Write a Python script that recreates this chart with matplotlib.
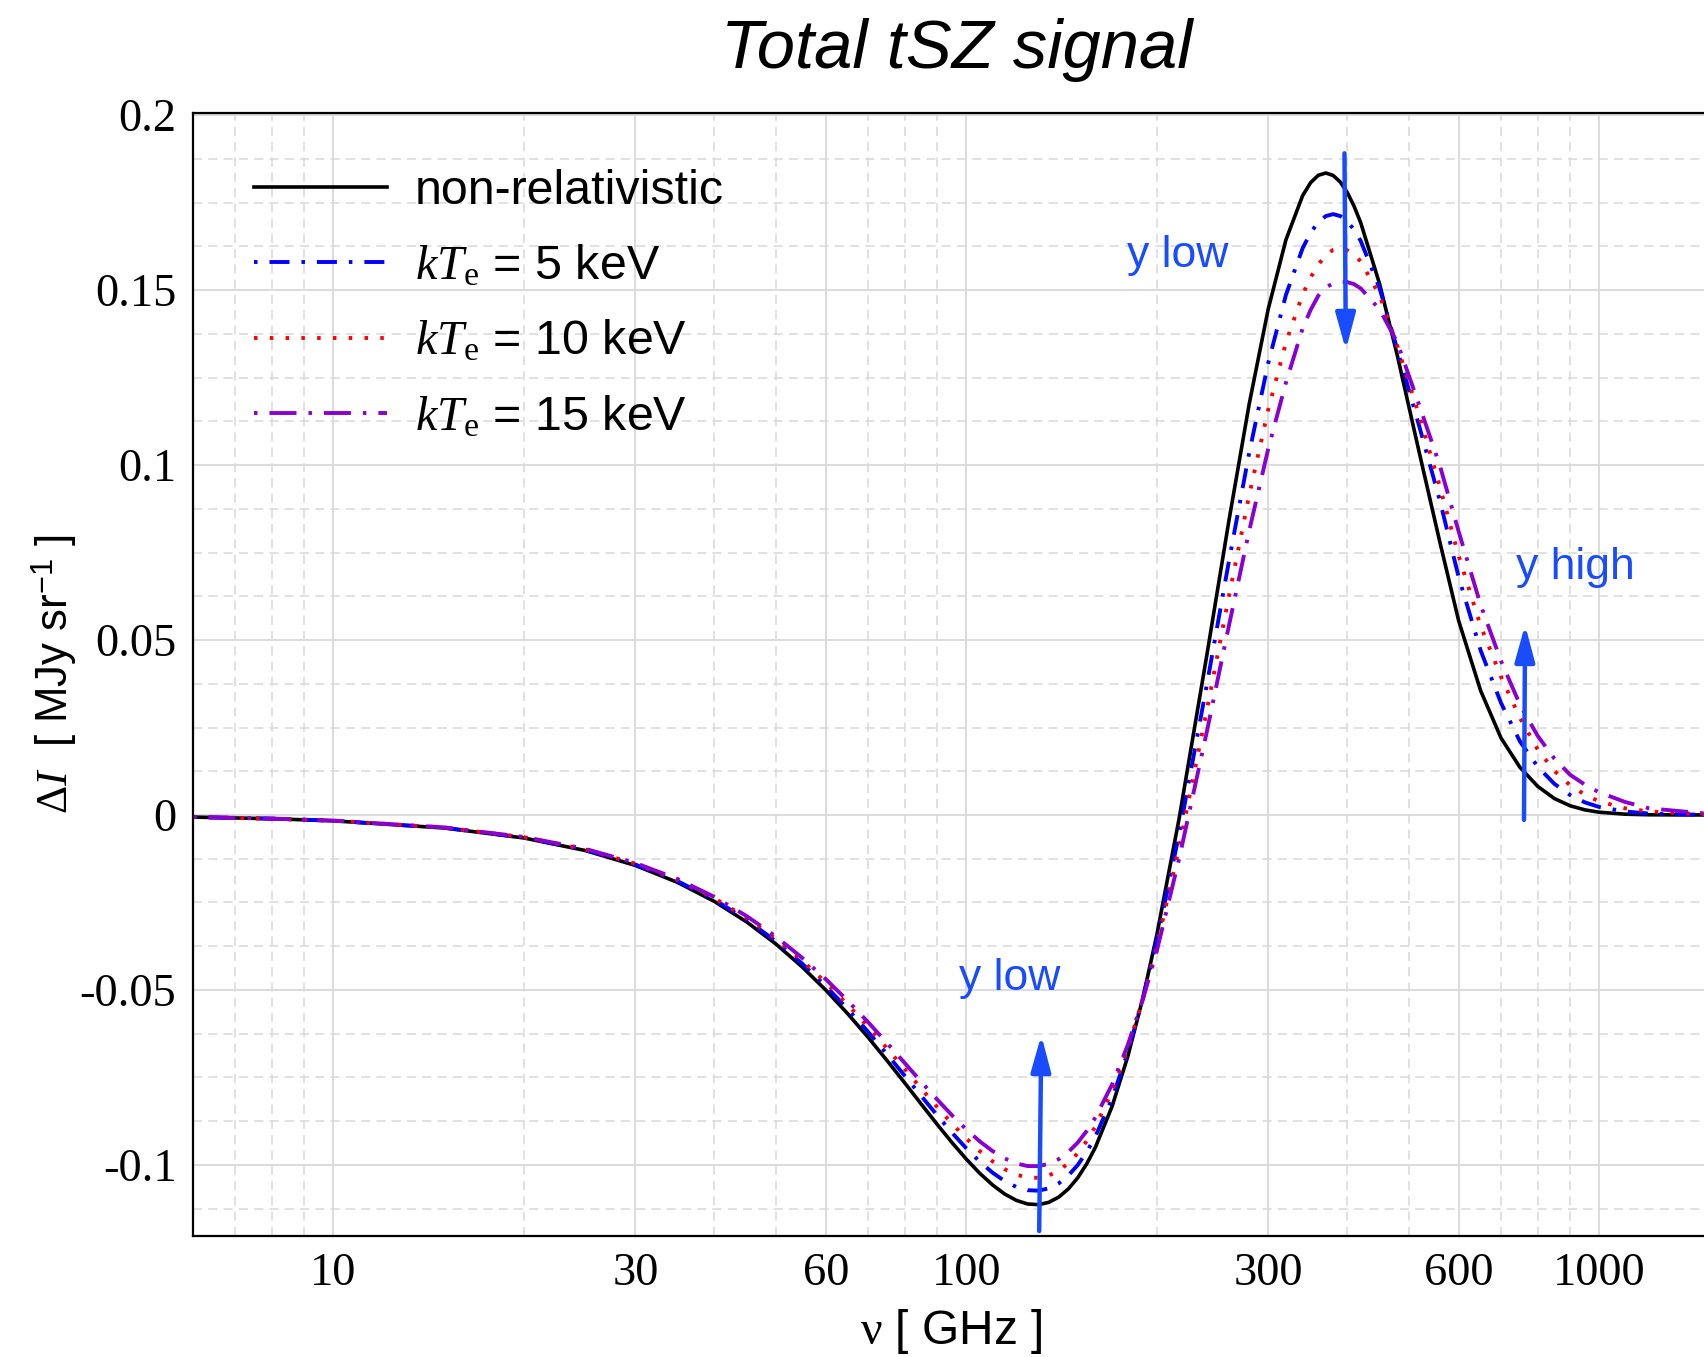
import matplotlib
matplotlib.use('Agg')
import matplotlib.pyplot as plt

plt.rcParams['font.family'] = 'Liberation Sans'
plt.rcParams['mathtext.fontset'] = 'custom'
plt.rcParams['mathtext.rm'] = 'Liberation Serif'
plt.rcParams['mathtext.it'] = 'Liberation Serif:italic'
plt.rcParams['mathtext.sf'] = 'Liberation Sans'

# frequency grid [GHz] and intensity change [MJy/sr]
freq = [6, 8, 10, 15, 20, 25, 30,
        35, 40, 45, 50, 55, 60, 65, 70, 75, 80, 85, 90, 95, 100,
        105, 110, 115, 120, 125, 130, 135, 140, 145, 150, 155, 160,
        170, 180, 190, 200, 217,
        240, 260, 280, 300, 320, 340,
        350, 360, 370, 380, 390, 400, 410, 420,
        450, 480, 520, 560, 600, 650, 700, 750, 800,
        850, 900, 950, 1000, 1100, 1200, 1500]

non_rel = [-0.00060, -0.00107, -0.00167, -0.00373, -0.00657, -0.01015, -0.01442,
           -0.01929, -0.02471, -0.03059, -0.03683, -0.04336, -0.05006, -0.05684, -0.06359,
           -0.07023, -0.07664, -0.08275, -0.08845, -0.09367, -0.09832,
           -0.10236, -0.10570, -0.10831, -0.11014, -0.11116, -0.11135, -0.11070, -0.10920,
           -0.10685, -0.10369, -0.09971, -0.09496,
           -0.08328, -0.06900, -0.05254, -0.03437, -0.00095,
           0.04570, 0.08400, 0.11748, 0.14453, 0.16436, 0.17696,
           0.18068, 0.18281, 0.18346, 0.18277, 0.18087, 0.17791, 0.17401, 0.16932,
           0.15175, 0.13129, 0.10347, 0.07817, 0.05550, 0.03550, 0.02200, 0.01360, 0.00818,
           0.00470, 0.00264, 0.00146, 0.00080, 0.00023, 0.00006, 0.00000]

kte5 = [-0.00059, -0.00105, -0.00164, -0.00367, -0.00646, -0.00998, -0.01416,
        -0.01894, -0.02424, -0.02998, -0.03607, -0.04242, -0.04893, -0.05549, -0.06202,
        -0.06841, -0.07458, -0.08043, -0.08587, -0.09084, -0.09524,
        -0.09905, -0.10219, -0.10462, -0.10631, -0.10722, -0.10736, -0.10670, -0.10526,
        -0.10302, -0.10004, -0.09630, -0.09186,
        -0.08101, -0.06781, -0.05267, -0.03603, -0.00539,
        0.03726, 0.07243, 0.10350, 0.12912, 0.14862, 0.16193,
        0.16637, 0.16942, 0.17116, 0.17171, 0.17117, 0.16965, 0.16725, 0.16410,
        0.15050, 0.13300, 0.11100, 0.09000, 0.06800, 0.04700, 0.03200, 0.02100, 0.01380,
        0.00890, 0.00570, 0.00360, 0.00230, 0.00100, 0.00040, 0.00000]

kte10 = [-0.00058, -0.00104, -0.00162, -0.00361, -0.00636, -0.00981, -0.01393,
         -0.01861, -0.02380, -0.02942, -0.03536, -0.04155, -0.04788, -0.05425, -0.06057,
         -0.06675, -0.07268, -0.07830, -0.08350, -0.08824, -0.09242,
         -0.09602, -0.09896, -0.10123, -0.10278, -0.10361, -0.10369, -0.10303, -0.10163,
         -0.09950, -0.09668, -0.09317, -0.08902,
         -0.07892, -0.06672, -0.05280, -0.03755, -0.00923,
         0.03000, 0.06243, 0.09142, 0.11581, 0.13501, 0.14870,
         0.15360, 0.15730, 0.16000, 0.16150, 0.16180, 0.16140, 0.16030, 0.15820,
         0.14850, 0.13400, 0.11400, 0.09400, 0.07400, 0.05400, 0.03950, 0.02770, 0.01870,
         0.01260, 0.00850, 0.00580, 0.00390, 0.00190, 0.00100, 0.00010]

kte15 = [-0.00057, -0.00102, -0.00160, -0.00356, -0.00627, -0.00967, -0.01371,
         -0.01831, -0.02341, -0.02891, -0.03472, -0.04077, -0.04693, -0.05313, -0.05925,
         -0.06523, -0.07095, -0.07636, -0.08134, -0.08587, -0.08984,
         -0.09325, -0.09602, -0.09814, -0.09958, -0.10032, -0.10035, -0.09969, -0.09834,
         -0.09630, -0.09362, -0.09032, -0.08642,
         -0.07702, -0.06573, -0.05291, -0.03893, -0.01246,
         0.02384, 0.05401, 0.08124, 0.10459, 0.12355, 0.13900,
         0.14430, 0.14840, 0.15080, 0.15190, 0.15240, 0.15230, 0.15170, 0.15050,
         0.14450, 0.13500, 0.11700, 0.10000, 0.08100, 0.06000, 0.04400, 0.03150, 0.02260,
         0.01610, 0.01150, 0.00865, 0.00650, 0.00370, 0.00190, 0.00030]

labels = ['non-relativistic', r'$kT_{\mathrm{e}}$ = 5 keV',
          r'$kT_{\mathrm{e}}$ = 10 keV', r'$kT_{\mathrm{e}}$ = 15 keV']

x_ticks = [10, 30, 60, 100, 300, 600, 1000]
x_ticklabels = ['10', '30', '60', '100', '300', '600', '1000']
x_minor = [7, 8, 9, 20, 40, 50, 70, 80, 90, 200, 400, 500, 700, 800, 900]
y_ticks = [-0.1, -0.05, 0, 0.05, 0.1, 0.15, 0.2]
y_ticklabels = ['-0.1', '-0.05', '0', '0.05', '0.1', '0.15', '0.2']
y_minor = [-0.1125, -0.0875, -0.075, -0.0625, -0.0375, -0.025, -0.0125,
           0.0125, 0.025, 0.0375, 0.0625, 0.075, 0.0875,
           0.1125, 0.125, 0.1375, 0.1625, 0.175, 0.1875]

ARROW_BLUE = '#1a4cff'

fig = plt.figure(figsize=(17.04, 13.57), dpi=100)
ax = fig.add_axes([0.1133, 0.0892, 0.8867, 0.8275])
ax.set_xscale('log')

ax.plot(freq, non_rel, color='black', lw=2.6, label=labels[0])
ax.plot(freq, kte5, color='#0000ff', lw=2.8, ls=(0, (0.9, 3.08, 5.14, 3.08)), label=labels[1])
ax.plot(freq, kte10, color='#ff0000', lw=2.8, ls=(0, (0.9, 3.16)), label=labels[2])
ax.plot(freq, kte15, color='#8a00d0', lw=2.8, ls=(0, (0.9, 3.08, 6.94, 3.08)), label=labels[3])

ax.set_xlim(6, 1465)
ax.set_ylim(-0.1203, 0.2006)

ax.set_xticks(x_ticks)
ax.set_xticklabels(x_ticklabels)
ax.set_xticks(x_minor, minor=True)
ax.xaxis.set_minor_formatter(matplotlib.ticker.NullFormatter())
ax.set_yticks(y_ticks)
ax.set_yticklabels(y_ticklabels)
ax.set_yticks(y_minor, minor=True)

for lab in ax.get_xticklabels() + ax.get_yticklabels():
    lab.set_fontfamily('Liberation Serif')
    lab.set_fontsize(33.5)
ax.tick_params(which='both', length=0)
ax.tick_params(axis='x', pad=12)
ax.tick_params(axis='y', pad=12)

ax.grid(which='major', color='#d9d9d9', lw=1.3, ls='-')
ax.grid(which='minor', color='#d9d9d9', lw=1.1, ls=(0, (6, 4)))
ax.set_axisbelow(True)

for side in ['left', 'bottom', 'top']:
    ax.spines[side].set_linewidth(1.6)
ax.spines['right'].set_visible(False)

ax.legend(loc='upper left', bbox_to_anchor=(0.0404, 0.9505), frameon=False, fontsize=34.8,
          handlelength=2.75, handletextpad=0.58, labelspacing=0.62, borderpad=0, borderaxespad=0)

# arrows and notes
arrow_kw = dict(arrowstyle='-|>,head_length=1.1,head_width=0.3', color=ARROW_BLUE, lw=3.2,
                mutation_scale=20, shrinkA=0, shrinkB=0)
ax.annotate('', xy=(398, 0.1329), xytext=(396, 0.1891), arrowprops=arrow_kw)
ax.annotate('', xy=(764, 0.0543), xytext=(761, -0.0014), arrowprops=arrow_kw)
ax.annotate('', xy=(131.4, -0.0629), xytext=(130.4, -0.1189), arrowprops=arrow_kw)
ax.text(215.8, 0.1567, 'y low', color=ARROW_BLUE, fontsize=32, ha='center', va='baseline')
ax.text(916.6, 0.0673, 'y high', color=ARROW_BLUE, fontsize=32, ha='center', va='baseline')
ax.text(117.3, -0.0500, 'y low', color=ARROW_BLUE, fontsize=32, ha='center', va='baseline')

fig.text(0.5616, 0.95, 'Total tSZ signal', style='italic', fontsize=49.5, ha='center', va='baseline')
fig.text(0.558, 0.019, r'$\mathrm{\nu}$ [ GHz ]', fontsize=34.5, ha='center', va='center')
fig.text(0.032, 0.503, r'$\mathrm{\Delta}I$  [ MJy sr$^{\mathsf{-1}}$ ]', fontsize=31.5,
         rotation=90, ha='center', va='center')

fig.savefig('out.png', dpi=100)
